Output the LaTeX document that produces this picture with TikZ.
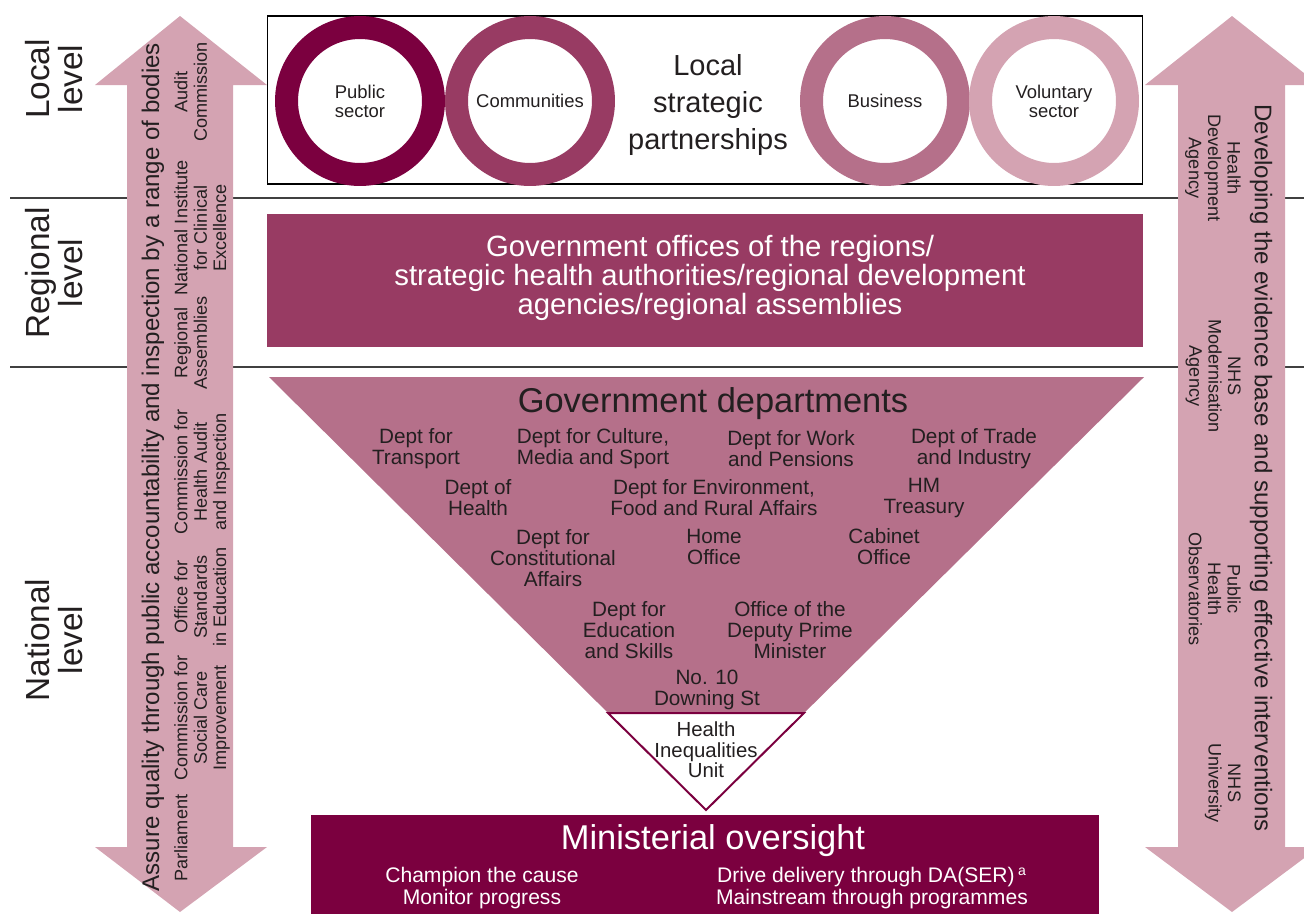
\documentclass[tikz,border=0pt]{standalone}
\usepackage{fontspec}
\setmainfont{Liberation Sans}
\usepackage{xcolor}
\usepackage{tikz}
\definecolor{plumdark}{RGB}{123,0,63}
\definecolor{plummid}{RGB}{152,59,99}
\definecolor{plumsoft}{RGB}{181,112,138}
\definecolor{plumpale}{RGB}{212,163,178}
\definecolor{ink}{RGB}{35,31,32}

\begin{document}
\begin{tikzpicture}[x=0.02cm,y=-0.02cm,
	levellabel/.style={rotate=90,align=center,text=ink,font=\fontsize{19}{18.5}\selectfont},
	ringnode/.style={circle,draw=#1,line width=0.46cm,minimum size=2.94cm,inner sep=0pt,align=center,text=ink,font=\fontsize{10.5}{10.8}\selectfont},
	deptlabel/.style={align=center,text=ink,inner sep=0pt,font=\fontsize{11.8}{12}\selectfont},
	bodyup/.style={rotate=90,anchor=north,align=center,inner sep=0pt,text=ink,font=\fontsize{10.3}{11}\selectfont},
	bodydown/.style={rotate=-90,anchor=north,align=center,inner sep=0pt,text=ink,font=\fontsize{10.3}{11}\selectfont},
	arrowtext/.style={inner sep=0pt,text=ink,font=\fontsize{13.7}{14}\selectfont}]

	\useasboundingbox (0,0) rectangle (1304,913);

	\draw[black!75,line width=0.8pt] (10,198) -- (1304,198);
	\draw[black!75,line width=0.8pt] (10,367) -- (1304,367);

	\fill[plumpale] (180,16) -- (267,85) -- (233,85) -- (233,847) -- (267,847) -- (180,912) -- (95,847) -- (127,847) -- (127,85) -- (95,85) -- cycle;
	\fill[plumpale] (1232,16) -- (1319,85) -- (1285,85) -- (1285,847) -- (1319,847) -- (1232,912) -- (1145,847) -- (1178,847) -- (1178,85) -- (1145,85) -- cycle;

	\node[levellabel] (loc) at (54,79) {Local\\level};
	\node[levellabel] (regl) at (54,273) {Regional\\level};
	\node[levellabel] (nat) at (54,640) {National\\level};

	\node[draw=black,line width=0.6pt,minimum width=17.52cm,minimum height=3.36cm,inner sep=0pt] (lsp) at (705,100) {};
	\node[ringnode=plumdark] (pub) at (360,101) {Public\\sector};
	\node[ringnode=plummid] (com) at (530,101) {Communities};
	\node[ringnode=plumsoft] (bus) at (885,101) {Business};
	\node[ringnode=plumpale] (vol) at (1054,101) {Voluntary\\sector};
	\node[align=center,text=ink,font=\fontsize{16.5}{21}\selectfont] (lsptext) at (708,105) {Local\\strategic\\partnerships};

	\node[fill=plummid,minimum width=17.52cm,minimum height=2.66cm,inner sep=0pt] (reg) at (705,280.5) {};
	\node[align=center,text=white,font=\fontsize{16.7}{16.5}\selectfont] (regtext) at (710,278) {Government offices of the regions/\\strategic health authorities/regional development\\agencies/regional assemblies};

	\fill[plumsoft] (269,377) -- (1144,377) -- (706,810) -- cycle;
	\draw[plumdark,line width=0.04cm,fill=white] (608,713) -- (804,713) -- (706,810) -- cycle;

	\node[text=ink,font=\fontsize{19.6}{20}\selectfont] (govdep) at (713,404) {Government departments};
	\node[deptlabel] (trans) at (416,449) {Dept for\\Transport};
	\node[deptlabel] (cult) at (593,449) {Dept for Culture,\\Media and Sport};
	\node[deptlabel] (work) at (791,449) {Dept for Work\\and Pensions};
	\node[deptlabel] (trade) at (974,449) {Dept of Trade\\and Industry};
	\node[deptlabel] (health) at (478,498) {Dept of\\Health};
	\node[deptlabel] (env) at (714,498) {Dept for Environment,\\Food and Rural Affairs};
	\node[deptlabel] (treas) at (924,498) {HM\\Treasury};
	\node[deptlabel] (const) at (553,558) {Dept for\\Constitutional\\Affairs};
	\node[deptlabel] (home) at (714,547) {Home\\Office};
	\node[deptlabel] (cab) at (884,547) {Cabinet\\Office};
	\node[deptlabel] (edu) at (629,630) {Dept for\\Education\\and Skills};
	\node[deptlabel] (dpm) at (790,630) {Office of the\\Deputy Prime\\Minister};
	\node[deptlabel] (ten) at (707,690) {No. 10\\Downing St};
	\node[deptlabel,font=\fontsize{11.6}{11.7}\selectfont] (hiu) at (706,750) {Health\\Inequalities\\Unit};

	\node[fill=plumdark,minimum width=15.76cm,minimum height=2.1cm,inner sep=0pt,anchor=north west] (mino) at (311,815) {};
	\node[text=white,font=\fontsize{19.6}{20}\selectfont] (mintitle) at (713,841) {Ministerial oversight};
	\node[align=center,text=white,inner sep=0pt,font=\fontsize{12}{12}\selectfont] (champ) at (482,888) {Champion the cause\\Monitor progress};
	\node[align=center,text=white,inner sep=0pt,font=\fontsize{12}{12}\selectfont] (drive) at (872,888) {Drive delivery through DA(SER)\,\textsuperscript{a}\\Mainstream through programmes};

	\node[arrowtext,rotate=90] (assure) at (153,467) {Assure quality through public accountability and inspection by a range of bodies};
	\node[bodyup] (audit) at (174,92) {Audit\\Commission};
	\node[bodyup] (nice) at (174,228) {National Institute\\for Clinical\\Excellence};
	\node[bodyup] (rass) at (174,343) {Regional\\Assemblies};
	\node[bodyup] (chai) at (174,472) {Commission for\\Health Audit\\and Inspection};
	\node[bodyup] (ofsted) at (174,597) {Office for\\Standards\\in Education};
	\node[bodyup] (csci) at (174,718) {Commission for\\Social Care\\Improvement};
	\node[bodyup] (parl) at (174,838) {Parliament};

	\node[arrowtext,rotate=-90] (evid) at (1261,468) {Developing the evidence base and supporting effective interventions};
	\node[bodydown] (hda) at (1241,168) {Health\\Development\\Agency};
	\node[bodydown] (nhsma) at (1241,376) {NHS\\Modernisation\\Agency};
	\node[bodydown] (pho) at (1241,589) {Public\\Health\\Observatories};
	\node[bodydown] (nhsu) at (1241,783) {NHS\\University};

\end{tikzpicture}
\end{document}
